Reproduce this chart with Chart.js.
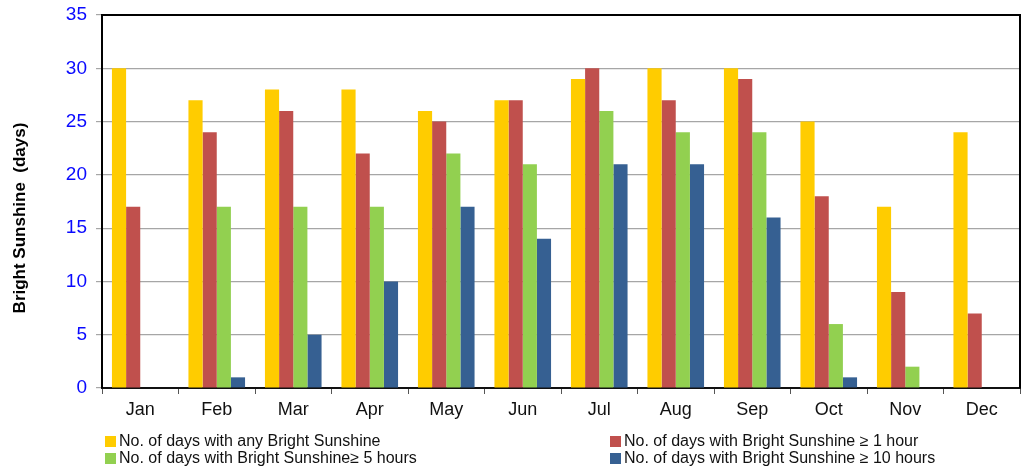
<!DOCTYPE html>
<html>
<head>
<meta charset="utf-8">
<script src="https://cdn.jsdelivr.net/npm/chart.js@4/dist/chart.umd.min.js"></script>
<style>
  html, body { margin: 0; padding: 0; background: #fff; }
  #wrap { position: relative; width: 1023px; height: 472px; }
  #legend { position: absolute; left: 0; top: 0; width: 1023px; height: 472px; pointer-events: none;
            font-family: "Liberation Sans", Arial, sans-serif; font-size: 16px; color: #111; }
  .item { position: absolute; display: flex; align-items: center; white-space: nowrap; }
  .sw { width: 11px; height: 11px; margin-right: 3px; }
</style>
</head>
<body>
<div id="wrap">
  <canvas id="c" width="1023" height="472"></canvas>
  <div id="legend"></div>
</div>
<script>
// Monthly bright sunshine day counts
const months = ['Jan','Feb','Mar','Apr','May','Jun','Jul','Aug','Sep','Oct','Nov','Dec'];
const anySunshine   = [30, 27, 28, 28, 26, 27, 29, 30, 30, 25, 17, 24];
const atLeast1Hour  = [17, 24, 26, 22, 25, 27, 30, 27, 29, 18, 9, 7];
const atLeast5Hours = [0, 17, 17, 17, 22, 21, 26, 24, 24, 6, 2, 0];
const atLeast10Hours= [0, 1, 5, 10, 17, 14, 21, 21, 16, 1, 0, 0];
const yTicks = [0, 5, 10, 15, 20, 25, 30, 35];
const yTitle = 'Bright Sunshine  (days)';

const seriesLabels = [
  'No. of days with any Bright Sunshine',
  'No. of days with Bright Sunshine \u2265 1 hour',
  'No. of days with Bright Sunshine\u2265 5 hours',
  'No. of days with Bright Sunshine \u2265 10 hours'
];
const seriesColors = ['#FFCC00', '#C0504D', '#92D050', '#366092'];
const seriesValues = [anySunshine, atLeast1Hour, atLeast5Hours, atLeast10Hours];

// frame around the plot (left, top, right) and the rotated axis title
const framePlugin = {
  id: 'frame',
  afterDraw(chart) {
    const { ctx, chartArea: a } = chart;
    ctx.save();
    ctx.strokeStyle = '#000';
    ctx.lineWidth = 2;
    ctx.beginPath();
    ctx.moveTo(a.left, a.bottom);
    ctx.lineTo(a.left, a.top);
    ctx.lineTo(a.right, a.top);
    ctx.lineTo(a.right, a.bottom);
    ctx.stroke();

    ctx.translate(20, 218);
    ctx.rotate(-Math.PI / 2);
    ctx.fillStyle = '#000';
    ctx.font = 'bold 17px "Liberation Sans", Arial, sans-serif';
    ctx.textAlign = 'center';
    ctx.textBaseline = 'middle';
    ctx.fillText(yTitle, 0, 0);
    ctx.restore();
  }
};

const chart = new Chart(document.getElementById('c'), {
  type: 'bar',
  data: {
    labels: months,
    datasets: seriesValues.map((v, i) => ({
      label: seriesLabels[i],
      data: v,
      backgroundColor: seriesColors[i],
      borderWidth: 0,
      categoryPercentage: 0.74,
      barPercentage: 1.0
    }))
  },
  options: {
    responsive: false,
    animation: false,
    layout: { padding: { left: 0, top: 15, right: 3, bottom: 0 } },
    plugins: { legend: { display: false }, tooltip: { enabled: false } },
    scales: {
      x: {
        offset: true,
        grid: { display: true, drawOnChartArea: false, drawTicks: true, tickLength: 6, color: '#555', offset: true },
        border: { display: true, color: '#111', width: 2 },
        ticks: { color: '#111', font: { family: 'Liberation Sans, Arial', size: 18 }, padding: 5 },
        afterFit(scale) { scale.height = 84; scale.paddingLeft = 0; scale.paddingRight = 0; }
      },
      y: {
        min: 0, max: 35,
        afterBuildTicks(scale) { scale.ticks = yTicks.map(v => ({ value: v })); },
        grid: { color: '#A6A6A6', lineWidth: 1.2, tickLength: 6, drawTicks: true },
        border: { display: true, color: '#000', width: 2 },
        ticks: { color: '#0A0AFF', font: { family: 'Liberation Sans, Arial', size: 19 }, padding: 9 },
        afterFit(scale) { scale.width = 102; scale.paddingTop = 0; scale.paddingBottom = 0; }
      }
    }
  },
  plugins: [framePlugin]
});

// two-column legend built from the chart's datasets
const legend = document.getElementById('legend');
const pos = [[105, 441], [610, 441], [105, 458], [610, 458]];
chart.data.datasets.forEach((ds, i) => {
  const el = document.createElement('div');
  el.className = 'item';
  el.style.left = pos[i][0] + 'px';
  el.style.top = (pos[i][1] - 9) + 'px';
  el.style.height = '18px';
  const sw = document.createElement('span');
  sw.className = 'sw';
  sw.style.background = ds.backgroundColor;
  const tx = document.createElement('span');
  tx.textContent = ds.label;
  el.appendChild(sw);
  el.appendChild(tx);
  legend.appendChild(el);
});
</script>
</body>
</html>
